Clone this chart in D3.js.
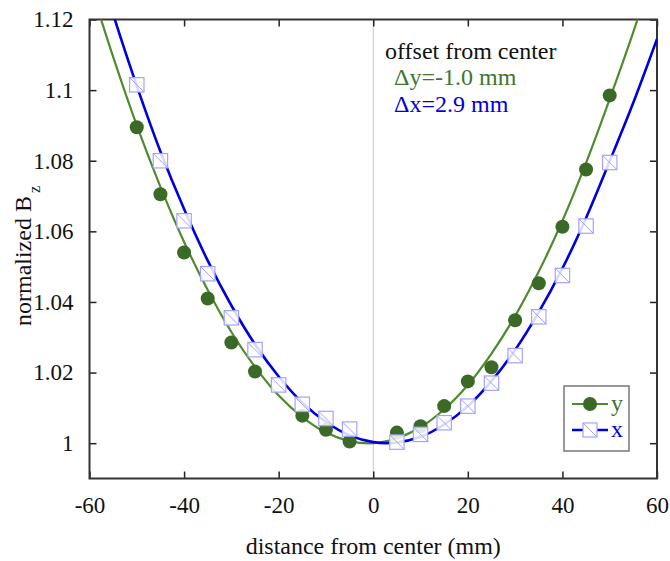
<!DOCTYPE html>
<html><head><meta charset="utf-8">
<script src="https://cdn.jsdelivr.net/npm/d3@7"></script>
<style>body{margin:0;background:#fff} svg text{font-family:"Liberation Serif","Times New Roman",serif !important}</style>
</head><body><svg id="c" width="670" height="561"></svg>
<script>
const xTicks=[-60,-40,-20,0,20,40,60];
const xTickLabels=["-60","-40","-20","0","20","40","60"];
const yTicks=[1,1.02,1.04,1.06,1.08,1.1,1.12];
const yTickLabels=["1","1.02","1.04","1.06","1.08","1.1","1.12"];
const ySeriesX=[-50,-45,-40,-35,-30,-25,-15,-10,-5,5,10,15,20,25,30,35,40,45,50];
const ySeriesVal=[1.0895,1.0705,1.054,1.041,1.0285,1.0203,1.0078,1.0038,1.0005,1.003,1.0048,1.0105,1.0175,1.0215,1.0348,1.0453,1.0613,1.0775,1.0985];
const xSeriesX=[-50,-45,-40,-35,-30,-25,-20,-15,-10,-5,5,10,15,20,25,30,35,40,45,50];
const xSeriesVal=[1.1015,1.080,1.063,1.048,1.0355,1.0265,1.0165,1.011,1.007,1.004,1.0003,1.0025,1.0058,1.0105,1.017,1.0248,1.0358,1.0475,1.0615,1.0795];
const fitPosX=[-60,-55,-50,-45,-40,-35,-30,-25,-20,-15,-10,-5,0,5,10,15,20,25,30,35,40,45,50,55,60];
const fitYVal=[1.1305,1.1094,1.0900,1.0726,1.0570,1.0434,1.0315,1.0216,1.0135,1.0074,1.0030,1.0006,1.0000,1.0014,1.0045,1.0096,1.0165,1.0254,1.0360,1.0486,1.0630,1.0794,1.0975,1.1165,1.137];
const fitXVal=[1.1435,1.1215,1.1012,1.0826,1.0663,1.0517,1.0390,1.0280,1.0189,1.0115,1.0060,1.0022,1.0003,1.0002,1.0018,1.0053,1.0105,1.0176,1.0264,1.0371,1.0495,1.0638,1.0799,1.0965,1.1145];
const annotation=["offset from center","\u0394y=-1.0 mm","\u0394x=2.9 mm"];
const legendLabels=["y","x"];

const FONT="'Liberation Serif','Times New Roman',serif";
const L=89.5,R=657,T=19.5,B=478.5;
const GREEN="#4e8c2e",DKGREEN="#3b6a27",BLUE="#0000dc",SQ="#a3a3ff";
const svg=d3.select("#c");
const x=d3.scaleLinear().domain([-60,60]).range([L,R]);
const y=d3.scaleLinear().domain([0.99,1.12]).range([B,T]);

svg.append("defs").append("clipPath").attr("id","clip").append("rect")
  .attr("x",L).attr("y",T).attr("width",R-L).attr("height",B-T);

svg.append("line").attr("x1",x(0)).attr("x2",x(0)).attr("y1",T).attr("y2",B)
  .attr("stroke","#c8c8c8").attr("stroke-width",1);

const tl=7;
const axB=svg.append("g").attr("transform",`translate(0,${B})`)
  .call(d3.axisBottom(x).tickValues(xTicks).tickSize(-tl).tickPadding(18).tickFormat((d,i)=>xTickLabels[i]));
const axT=svg.append("g").attr("transform",`translate(0,${T})`)
  .call(d3.axisTop(x).tickValues(xTicks).tickSize(-tl).tickFormat(""));
const axL=svg.append("g").attr("transform",`translate(${L},0)`)
  .call(d3.axisLeft(y).tickValues(yTicks).tickSize(-tl).tickPadding(16).tickFormat((d,i)=>yTickLabels[i]));
const axR=svg.append("g").attr("transform",`translate(${R},0)`)
  .call(d3.axisRight(y).tickValues(yTicks).tickSize(-tl).tickFormat(""));
[axB,axT,axL,axR].forEach(g=>{g.select(".domain").remove();g.attr("font-family",FONT).attr("font-size",23);});
svg.selectAll(".tick line").attr("stroke","#222").attr("stroke-width",1.5);
svg.selectAll(".tick text").attr("fill","#111").attr("font-family",FONT).attr("font-size",23);

svg.append("rect").attr("x",L).attr("y",T).attr("width",R-L).attr("height",B-T)
  .attr("fill","none").attr("stroke","#333").attr("stroke-width",2);

const plot=svg.append("g").attr("clip-path","url(#clip)");
const line=d3.line().curve(d3.curveCatmullRom);
plot.append("path").attr("d",line(fitPosX.map((d,i)=>[x(d),y(fitYVal[i])])))
  .attr("fill","none").attr("stroke",GREEN).attr("stroke-width",2.2);
plot.append("path").attr("d",line(fitPosX.map((d,i)=>[x(d),y(fitXVal[i])])))
  .attr("fill","none").attr("stroke",BLUE).attr("stroke-width",2.6);

plot.selectAll("circle.y").data(ySeriesX).join("circle").attr("class","y")
  .attr("cx",d=>x(d)).attr("cy",(d,i)=>y(ySeriesVal[i])).attr("r",7).attr("fill",DKGREEN);

const s=7.2;
const sq=plot.selectAll("g.sq").data(xSeriesX).join("g").attr("class","sq")
  .attr("transform",(d,i)=>`translate(${x(d)},${y(xSeriesVal[i])})`);
sq.append("rect").attr("x",-s).attr("y",-s).attr("width",2*s).attr("height",2*s)
  .attr("fill","#fff").attr("fill-opacity",0.85).attr("stroke",SQ).attr("stroke-width",1.2);
sq.append("line").attr("x1",-s).attr("y1",-s).attr("x2",s).attr("y2",s).attr("stroke",SQ).attr("stroke-width",1);

svg.append("text").attr("x",385).attr("y",59).attr("font-size",24).attr("fill","#111").text(annotation[0]);
svg.append("text").attr("x",394).attr("y",85).attr("font-size",24).attr("fill","#3f7431").text(annotation[1]);
svg.append("text").attr("x",394).attr("y",112).attr("font-size",24).attr("fill",BLUE).text(annotation[2]);

const lg=svg.append("g");
lg.append("rect").attr("x",564).attr("y",386).attr("width",65).attr("height",65)
  .attr("fill","#fff").attr("stroke","#777").attr("stroke-width",1.5);
lg.append("line").attr("x1",572).attr("x2",608).attr("y1",404).attr("y2",404).attr("stroke",GREEN).attr("stroke-width",2.2);
lg.append("circle").attr("cx",590).attr("cy",404).attr("r",7).attr("fill",DKGREEN);
lg.append("text").attr("x",611).attr("y",411).attr("font-size",24).attr("fill","#3f7431").text(legendLabels[0]);
lg.append("line").attr("x1",572).attr("x2",608).attr("y1",430).attr("y2",430).attr("stroke",BLUE).attr("stroke-width",2.6);
lg.append("rect").attr("x",583).attr("y",423).attr("width",14).attr("height",14)
  .attr("fill","#fff").attr("stroke",SQ).attr("stroke-width",1.2);
lg.append("line").attr("x1",583).attr("y1",423).attr("x2",597).attr("y2",437).attr("stroke",SQ).attr("stroke-width",1);
lg.append("text").attr("x",611).attr("y",437).attr("font-size",24).attr("fill",BLUE).text(legendLabels[1]);

svg.append("text").attr("x",x(0)).attr("y",554).attr("text-anchor","middle").attr("font-size",24)
  .attr("fill","#111").text("distance from center (mm)");
const yl=svg.append("text").attr("transform","translate(31,256) rotate(-90)").attr("text-anchor","middle")
  .attr("font-size",24).attr("fill","#111");
yl.append("tspan").text("normalized B");
yl.append("tspan").attr("font-size",16).attr("dx",3).attr("dy",9).text("z");
</script></body></html>
